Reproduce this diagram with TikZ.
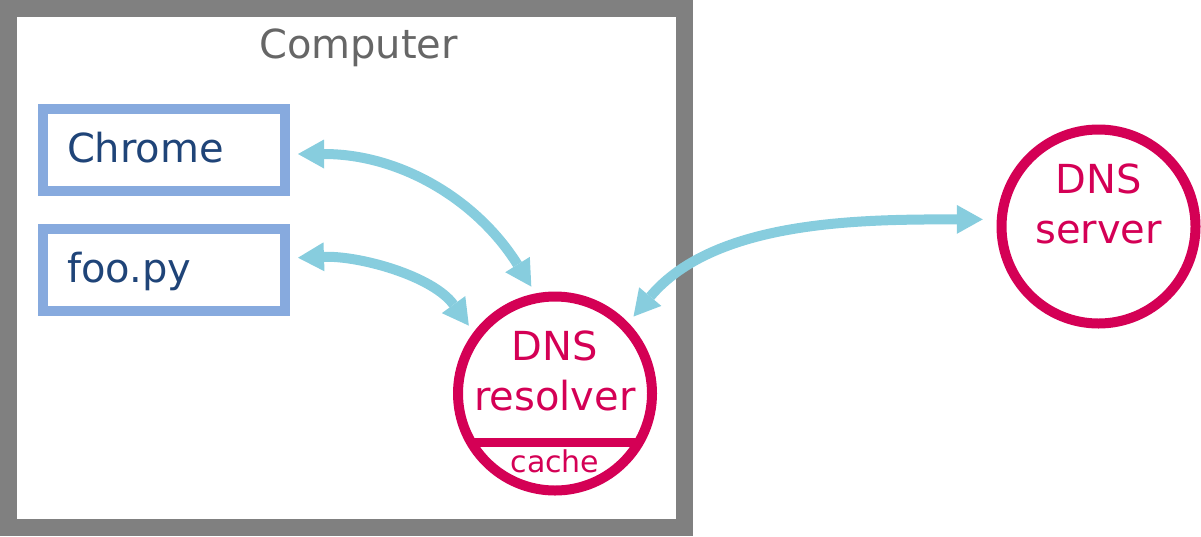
\documentclass[tikz,border=0pt]{standalone}
\usepackage{fontspec}
\setmainfont{DejaVu Sans}
\usetikzlibrary{arrows.meta}
\definecolor{framegray}{HTML}{808080}
\definecolor{labelgray}{HTML}{666666}
\definecolor{appblue}{HTML}{87AADE}
\definecolor{apptext}{HTML}{1F4478}
\definecolor{dnsred}{HTML}{D40055}
\definecolor{linkblue}{HTML}{87CDDE}
\newcommand{\bigtext}{\fontsize{30pt}{37.5pt}\selectfont}
\newcommand{\smalltext}{\fontsize{22.5pt}{27pt}\selectfont}
\tikzset{>={Triangle[length=19.5pt,width=21.75pt,line width=0pt]},
  computerbox/.style={draw=framegray,line width=12.75pt,inner sep=0pt,
    minimum width=507pt,minimum height=389.25pt},
  appbox/.style={draw=appblue,line width=7.5pt,inner xsep=18pt,inner ysep=0pt,
    text width=145.5pt,minimum height=61.5pt,align=left,text=apptext,
    text height=22.5pt,text depth=4.5pt,font=\bigtext},
  dnscircle/.style={circle,draw=dnsred,line width=7.5pt,inner sep=0pt,minimum size=145.5pt},
  dnslabel/.style={text=dnsred,align=center,font=\bigtext},
  link/.style={draw=linkblue,line width=7.5pt,<->,shorten >=6pt,shorten <=6pt}}

\begin{document}
\begin{tikzpicture}[x=0.75pt,y=0.75pt]
\useasboundingbox (0,0) rectangle (1201,-536);
\node[computerbox] (computer) at (346.5,-268) {};
\node[anchor=base,text=labelgray,font=\bigtext] (computerlabel) at (358.5,-58) {Computer};
\node[appbox] (chrome) at (164,-150) {Chrome};
\node[appbox] (foo) at (164,-270) {foo.py};
% resolver with its cache
\node[dnscircle] (resolver) at (555,-393.5) {};
\node[dnslabel] (resolverlabel) at (555,-370.5) {DNS\\resolver};
\draw[dnsred,line width=6.75pt] (resolver.center) ++(-83.7,-49) -- ++(167.4,0);
\node[anchor=base,text=dnsred,font=\smalltext] (cache) at (555,-472) {cache};
\node[dnscircle] (server) at (1098.5,-226.5) {};
\node[dnslabel] (serverlabel) at (1098.5,-203.5) {DNS\\server};
\draw[link] ([yshift=-3pt]chrome.east) to[out=0,in=122] (resolver.101);
\draw[link] ([yshift=9pt]foo.east) to[out=2,in=126,looseness=0.9] (resolver.143);
\draw[link,shorten >=10.5pt] (resolver.44) to[out=50,in=180,looseness=0.9] (server.176);
\end{tikzpicture}
\end{document}
